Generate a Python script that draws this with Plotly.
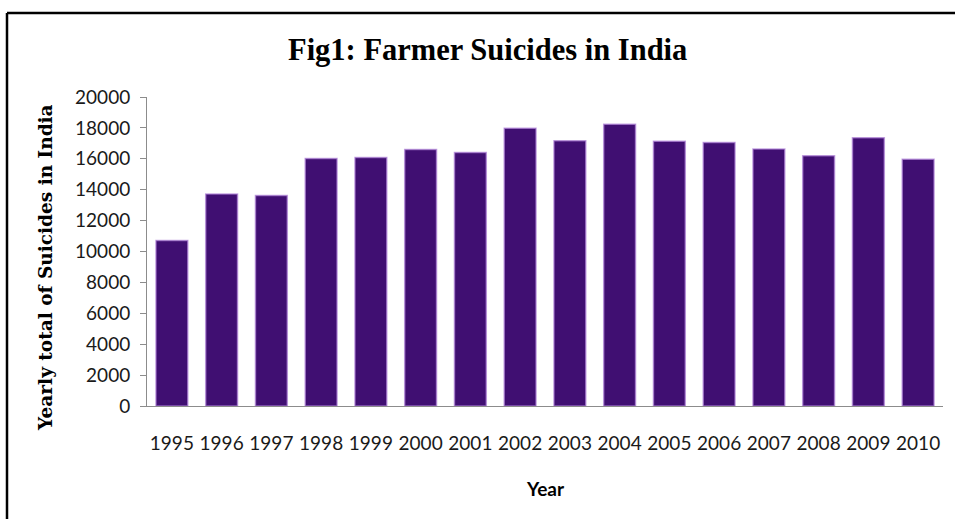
import plotly.graph_objects as go

years = ["1995", "1996", "1997", "1998", "1999", "2000", "2001", "2002",
         "2003", "2004", "2005", "2006", "2007", "2008", "2009", "2010"]
suicides = [10720, 13729, 13622, 16015, 16082, 16603, 16415, 17971,
            17164, 18241, 17131, 17060, 16632, 16196, 17368, 15964]
y_ticks = [0, 2000, 4000, 6000, 8000, 10000, 12000, 14000, 16000, 18000, 20000]
y_tick_labels = [str(v) for v in y_ticks]

W, H = 955, 519
L, R, T, B = 147, 12, 97, 113
pw, ph = W - L - R, H - T - B

def px(x):
    return (x - L) / pw

def py(y):
    return (H - B - y) / ph

fig = go.Figure()
fig.add_trace(go.Bar(
    x=years, y=suicides,
    marker=dict(color="#400f72", line=dict(color="rgba(175,130,215,0.7)", width=1.5)),
    hoverinfo="x+y",
))

fig.update_layout(
    width=W, height=H,
    margin=dict(l=L, r=R, t=T, b=B),
    paper_bgcolor="white", plot_bgcolor="white",
    bargap=0.36,
    showlegend=False,
    xaxis=dict(
        type="category",
        showline=True, linecolor="#8c8c8c", linewidth=1,
        ticks="", showgrid=False,
        tickfont=dict(family="Lato", size=19, color="#1a1a1a"),
        ticklabelstandoff=20,
    ),
    yaxis=dict(
        range=[0, 20000],
        tickvals=y_ticks, ticktext=y_tick_labels,
        showline=True, linecolor="#8c8c8c", linewidth=1,
        ticks="outside", ticklen=6, tickcolor="#8c8c8c",
        showgrid=False, zeroline=False,
        tickfont=dict(family="Lato", size=19, color="#1a1a1a"),
        ticklabelstandoff=6,
    ),
    annotations=[
        dict(text="<b>Fig1: Farmer Suicides in India</b>", xref="paper", yref="paper",
             x=px(487), y=py(50), showarrow=False, xanchor="center", yanchor="middle",
             font=dict(family="Liberation Serif", size=30.5, color="black")),
        dict(text="<b>Yearly total of Suicides in India</b>", xref="paper", yref="paper",
             x=px(45), y=py(268), showarrow=False, xanchor="center", yanchor="middle",
             textangle=-90,
             font=dict(family="DejaVu Serif", size=18.5, color="black")),
        dict(text="<b>Year</b>", xref="paper", yref="paper",
             x=px(545), y=py(488), showarrow=False, xanchor="center", yanchor="middle",
             font=dict(family="Lato", size=19, color="black")),
    ],
    shapes=[
        dict(type="line", xref="paper", yref="paper", x0=px(7), x1=px(956),
             y0=py(13), y1=py(13), line=dict(color="black", width=2.5)),
        dict(type="line", xref="paper", yref="paper", x0=px(7), x1=px(7),
             y0=py(13), y1=py(520), line=dict(color="black", width=2.5)),
    ],
)

fig.write_html("out.html")
